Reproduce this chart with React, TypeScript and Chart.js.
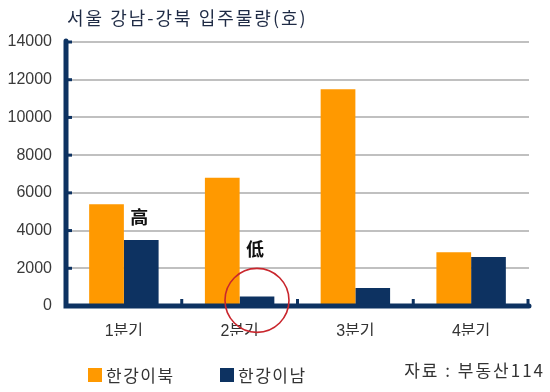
import React, { useEffect, useRef } from "react";
import { Chart, registerables } from "chart.js";

Chart.register(...registerables);

const categories = ["1분기", "2분기", "3분기", "4분기"];
const seriesNames = ["한강이북", "한강이남"];
const northValues = [5400, 6800, 11500, 2850];
const southValues = [3500, 500, 950, 2600];
const yTicks = [0, 2000, 4000, 6000, 8000, 10000, 12000, 14000];
const titleText = "서울 강남-강북 입주물량(호)";
const sourceText = "자료 : 부동산114";
const annotLabels = ["高", "低"];
const annotIndex = [0, 1];
const annotValues = [4700, 3000];
const circleIndex = 1;
const circleValue = 300;

const ORANGE = "#ff9900";
const NAVY = "#0d3261";
const KFONT = '"Liberation Sans", "Noto Sans CJK KR", sans-serif';

const decorPlugin = {
  id: "decor",
  afterDraw(chart: any) {
    const ctx = chart.ctx;
    const area = chart.chartArea;
    const y = chart.scales.y;
    const x = chart.scales.x;
    ctx.save();
    // axes
    ctx.strokeStyle = NAVY;
    ctx.lineCap = "round";
    ctx.lineWidth = 5;
    ctx.beginPath();
    ctx.moveTo(area.left, area.top - 1);
    ctx.lineTo(area.left, area.bottom);
    ctx.lineTo(area.right, area.bottom);
    ctx.stroke();
    ctx.lineWidth = 3;
    ctx.lineCap = "butt";
    yTicks.forEach((v) => {
      if (v === 0) return;
      const py = y.getPixelForValue(v);
      ctx.beginPath();
      ctx.moveTo(area.left, py);
      ctx.lineTo(area.left + 6, py);
      ctx.stroke();
    });
    const n = categories.length;
    for (let i = 1; i <= n; i++) {
      const px = i < n ? (x.getPixelForValue(i - 1) + x.getPixelForValue(i)) / 2 : area.right - 1;
      ctx.beginPath();
      ctx.moveTo(px, area.bottom);
      ctx.lineTo(px, area.bottom - 7);
      ctx.stroke();
    }
    // annotations
    const meta = chart.getDatasetMeta(1);
    ctx.fillStyle = "#111";
    ctx.font = 'bold 18px "Noto Sans CJK SC", "Noto Sans CJK KR", sans-serif';
    ctx.textAlign = "center";
    ctx.textBaseline = "middle";
    annotLabels.forEach((t, k) => {
      const bar = meta.data[annotIndex[k]];
      ctx.fillText(t, bar.x - 2, y.getPixelForValue(annotValues[k]));
    });
    const cb = meta.data[circleIndex];
    ctx.strokeStyle = "#c9262d";
    ctx.lineWidth = 1.6;
    ctx.beginPath();
    ctx.arc(cb.x, y.getPixelForValue(circleValue), 32, 0, Math.PI * 2);
    ctx.stroke();
    // title
    ctx.fillStyle = "#1f2b45";
    ctx.font = '18px "Noto Sans CJK KR", sans-serif';
    ctx.textAlign = "left";
    ctx.textBaseline = "middle";
    (ctx as any).letterSpacing = "2px";
    ctx.fillText(titleText, area.left + 1, 18);
    // legend
    const colors = [ORANGE, NAVY];
    const lx = [88, 220];
    ctx.font = '17px "Noto Sans CJK KR", sans-serif';
    (ctx as any).letterSpacing = "1.5px";
    seriesNames.forEach((s, i) => {
      ctx.fillStyle = colors[i];
      ctx.fillRect(lx[i], 368, 14, 14);
      ctx.fillStyle = "#333";
      ctx.fillText(s, lx[i] + 18, 376);
    });
    ctx.textAlign = "right";
    (ctx as any).letterSpacing = "2px";
    ctx.fillText(sourceText, 545, 371);
    ctx.restore();
  },
};

export default function App() {
  const ref = useRef<HTMLCanvasElement>(null);
  useEffect(() => {
    document.body.style.margin = "0";
    const chart = new Chart(ref.current as HTMLCanvasElement, {
      type: "bar",
      data: {
        labels: categories,
        datasets: [
          { label: seriesNames[0], data: northValues, backgroundColor: ORANGE, barPercentage: 1, categoryPercentage: 0.6 },
          { label: seriesNames[1], data: southValues, backgroundColor: NAVY, barPercentage: 1, categoryPercentage: 0.6 },
        ],
      },
      options: {
        animation: false,
        responsive: false,
        layout: { padding: { top: 42, right: 21, bottom: 56, left: 0 } },
        plugins: { legend: { display: false }, title: { display: false }, tooltip: { enabled: false } },
        scales: {
          x: {
            grid: { display: false, drawTicks: false },
            border: { display: false },
            ticks: { color: "#333", font: { family: KFONT, size: 16 }, padding: 16 },
            afterFit: (s: any) => { s.height = 30; },
          },
          y: {
            min: 0,
            max: 14000,
            ticks: {
              stepSize: 2000,
              color: "#3a3a3a",
              font: { family: '"Liberation Sans", sans-serif', size: 16 },
              padding: 14,
              callback: (v: any) => String(v),
            },
            grid: { color: "#c0c0c0", lineWidth: 2, drawTicks: false },
            border: { display: false },
            afterFit: (s: any) => { s.width = 66; },
          },
        },
      },
      plugins: [decorPlugin],
    });
    return () => chart.destroy();
  }, []);
  return (
    <div style={{ width: 550, height: 392, background: "#fff" }}>
      <canvas ref={ref} width={550} height={392} />
    </div>
  );
}
